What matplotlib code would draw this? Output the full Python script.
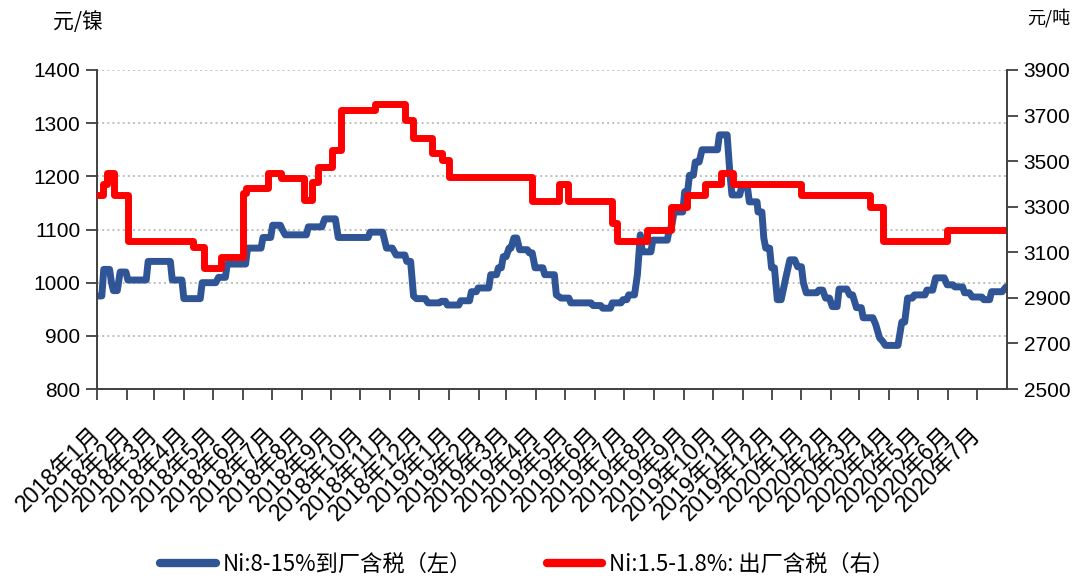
import pandas as pd
import matplotlib
matplotlib.use("Agg")
import matplotlib.pyplot as plt

# Ni 8-15% delivered, tax incl. (left axis, yuan per nickel point)
blue_dates = [
    "2018-01-01", "2018-01-06", "2018-01-08", "2018-01-14", "2018-01-16", "2018-01-18",
    "2018-01-22", "2018-01-25", "2018-01-31", "2018-02-02", "2018-02-21", "2018-02-23",
    "2018-03-18", "2018-03-20", "2018-03-30", "2018-04-01", "2018-04-18", "2018-04-20",
    "2018-05-04", "2018-05-07", "2018-05-14", "2018-05-16", "2018-06-04", "2018-06-06",
    "2018-06-20", "2018-06-22", "2018-06-30", "2018-07-02", "2018-07-10", "2018-07-12",
    "2018-07-15", "2018-08-06", "2018-08-08", "2018-08-22", "2018-08-25", "2018-09-05",
    "2018-09-08", "2018-10-09", "2018-10-11", "2018-10-24", "2018-10-28", "2018-11-03",
    "2018-11-07", "2018-11-16", "2018-11-18", "2018-11-22", "2018-11-25", "2018-11-28",
    "2018-12-07", "2018-12-10", "2018-12-22", "2018-12-24", "2018-12-28", "2018-12-30",
    "2019-01-11", "2019-01-13", "2019-01-22", "2019-01-24", "2019-01-29", "2019-01-31",
    "2019-02-11", "2019-02-13", "2019-02-19", "2019-02-21", "2019-02-24", "2019-02-26",
    "2019-03-01", "2019-03-04", "2019-03-06", "2019-03-09", "2019-03-12", "2019-03-15",
    "2019-03-23", "2019-03-25", "2019-03-28", "2019-03-31", "2019-04-08", "2019-04-10",
    "2019-04-20", "2019-04-22", "2019-04-27", "2019-05-05", "2019-05-07", "2019-05-28",
    "2019-05-30", "2019-06-07", "2019-06-09", "2019-06-17", "2019-06-19", "2019-06-28",
    "2019-06-30", "2019-07-04", "2019-07-06", "2019-07-12", "2019-07-15", "2019-07-18",
    "2019-07-20", "2019-07-29", "2019-07-31", "2019-08-15", "2019-08-17", "2019-08-19",
    "2019-08-22", "2019-08-31", "2019-09-02", "2019-09-05", "2019-09-07", "2019-09-11",
    "2019-09-13", "2019-09-17", "2019-09-20", "2019-10-06", "2019-10-08", "2019-10-16",
    "2019-10-19", "2019-10-21", "2019-10-29", "2019-10-31", "2019-11-06", "2019-11-08",
    "2019-11-16", "2019-11-17", "2019-11-21", "2019-11-23", "2019-11-25", "2019-11-29",
    "2019-12-01", "2019-12-04", "2019-12-07", "2019-12-11", "2019-12-16", "2019-12-20",
    "2019-12-25", "2019-12-28", "2020-01-01", "2020-01-03", "2020-01-06", "2020-01-17",
    "2020-01-19", "2020-01-23", "2020-01-26", "2020-01-30", "2020-02-02", "2020-02-07",
    "2020-02-09", "2020-02-17", "2020-02-20", "2020-02-23", "2020-02-27", "2020-03-03",
    "2020-03-05", "2020-03-15", "2020-03-18", "2020-03-22", "2020-03-25", "2020-03-28",
    "2020-04-10", "2020-04-14", "2020-04-17", "2020-04-20", "2020-04-25", "2020-04-27",
    "2020-05-08", "2020-05-10", "2020-05-16", "2020-05-19", "2020-05-28", "2020-05-31",
    "2020-06-06", "2020-06-08", "2020-06-16", "2020-06-18", "2020-06-23", "2020-06-26",
    "2020-07-06", "2020-07-08", "2020-07-14", "2020-07-16", "2020-07-27", "2020-07-31",
]
blue_vals = [
    975, 975, 1025, 1025, 1000, 985,
    985, 1020, 1020, 1005, 1005, 1040,
    1040, 1005, 1005, 970, 970, 1000,
    1000, 1010, 1010, 1035, 1035, 1065,
    1065, 1085, 1085, 1108, 1108, 1100,
    1090, 1090, 1105, 1105, 1120, 1120,
    1085, 1085, 1095, 1095, 1065, 1065,
    1052, 1052, 1040, 1040, 975, 970,
    970, 962, 962, 965, 965, 958,
    958, 966, 966, 983, 983, 990,
    990, 1015, 1015, 1028, 1028, 1049,
    1049, 1065, 1065, 1084, 1084, 1062,
    1062, 1056, 1056, 1028, 1028, 1015,
    1015, 977, 971, 971, 962, 962,
    957, 957, 952, 952, 962, 962,
    968, 968, 977, 977, 1015, 1090,
    1058, 1058, 1080, 1080, 1100, 1100,
    1133, 1133, 1171, 1171, 1202, 1202,
    1227, 1227, 1250, 1250, 1278, 1278,
    1202, 1165, 1165, 1180, 1180, 1152,
    1152, 1133, 1133, 1084, 1065, 1065,
    1028, 1028, 968, 968, 1011, 1043,
    1043, 1030, 1030, 1000, 981, 981,
    986, 986, 971, 971, 955, 955,
    988, 988, 977, 977, 953, 953,
    934, 934, 921, 896, 890, 882,
    882, 926, 926, 971, 971, 977,
    977, 986, 986, 1009, 1009, 996,
    996, 992, 992, 981, 981, 973,
    973, 968, 968, 983, 983, 992,
]

# Ni 1.5-1.8% ex-works, tax incl. (right axis, yuan per ton) - price change dates
red_dates = [
    "2018-01-01", "2018-01-07", "2018-01-11", "2018-01-19", "2018-02-02", "2018-04-10",
    "2018-04-22", "2018-05-10", "2018-06-01", "2018-06-04", "2018-06-27", "2018-07-11",
    "2018-08-04", "2018-08-12", "2018-08-18", "2018-09-02", "2018-09-11", "2018-10-16",
    "2018-11-16", "2018-11-24", "2018-12-14", "2018-12-24", "2019-01-01", "2019-03-28",
    "2019-04-25", "2019-05-04", "2019-06-19", "2019-06-24", "2019-07-25", "2019-08-19",
    "2019-09-04", "2019-09-23", "2019-10-10", "2019-10-22", "2020-01-01", "2020-03-12",
    "2020-03-25", "2020-05-31", "2020-08-01",
]
red_vals = [
    3350, 3400, 3450, 3350, 3150, 3125,
    3030, 3080, 3360, 3380, 3450, 3425,
    3330, 3410, 3475, 3550, 3725, 3750,
    3680, 3600, 3535, 3505, 3430, 3325,
    3400, 3325, 3230, 3150, 3200, 3300,
    3350, 3400, 3450, 3400, 3350, 3300,
    3150, 3200, 3200,
]

month_ticks = pd.date_range("2018-01-01", "2020-07-01", freq="MS")
month_labels = [f"{d.year}年{d.month}月" for d in month_ticks]

left_ticks = list(range(800, 1401, 100))
right_ticks = list(range(2500, 3901, 200))

blue = "#2F5597"
red = "#FF0000"
axis_col = "#404040"
cjk = ["Noto Sans CJK SC", "DejaVu Sans"]
num = ["Liberation Sans", "Noto Sans CJK SC"]

fig = plt.figure(figsize=(10.85, 5.77), dpi=100)
ax = fig.add_axes([0.0894, 0.3258, 0.8387, 0.5529])
ax2 = ax.twinx()

l1, = ax.plot(pd.to_datetime(blue_dates), blue_vals, color=blue, lw=5,
              solid_joinstyle="round", solid_capstyle="round",
              label="Ni:8-15%到厂含税（左）")
l2, = ax2.plot(pd.to_datetime(red_dates), red_vals, color=red, lw=5,
               drawstyle="steps-post", solid_joinstyle="round",
               label="Ni:1.5-1.8%: 出厂含税（右）")

ax.set_xlim(pd.Timestamp("2018-01-01"), pd.Timestamp("2020-08-01"))
ax.set_ylim(800, 1400)
ax2.set_ylim(2500, 3900)
ax.set_yticks(left_ticks)
ax2.set_yticks(right_ticks)
ax.set_xticks(month_ticks)
ax.set_xticklabels(month_labels, rotation=45, ha="right", va="center",
                   rotation_mode="anchor", family=num, fontsize=16.5)

ax.grid(axis="y", ls=":", lw=1.4, color="#BFBFBF")
ax.set_axisbelow(True)

for a in (ax, ax2):
    a.spines["top"].set_visible(False)
    for s in ("left", "right", "bottom"):
        a.spines[s].set_color(axis_col)
        a.spines[s].set_linewidth(1.4)
ax.spines["right"].set_visible(False)
ax2.spines["left"].set_visible(False)
ax2.spines["bottom"].set_visible(False)

ax.tick_params(axis="x", direction="out", length=8, width=1.3, color=axis_col, pad=22)
ax.tick_params(axis="y", direction="out", length=8, width=1.3, color=axis_col,
               labelsize=15, pad=4)
ax2.tick_params(axis="y", direction="out", length=8, width=1.3, color=axis_col,
                labelsize=15, pad=4)
for t in ax.get_yticklabels() + ax2.get_yticklabels():
    t.set_family(num)

fig.text(0.072, 0.962, "元/镍", family=cjk, fontsize=15, ha="center", va="center")
fig.text(0.967, 0.968, "元/吨", family=cjk, fontsize=13, ha="center", va="center")

leg = fig.legend(handles=[l1, l2], loc="center left", bbox_to_anchor=(0.1475, 0.022),
                 ncol=2, frameon=False, borderpad=0, borderaxespad=0,
                 handlelength=2.5, handletextpad=0.32, columnspacing=3.35,
                 prop={"family": cjk, "size": 16})
for h in leg.get_lines():
    h.set_linewidth(6)
    h.set_solid_capstyle("round")

fig.savefig("out.png", dpi=100)
